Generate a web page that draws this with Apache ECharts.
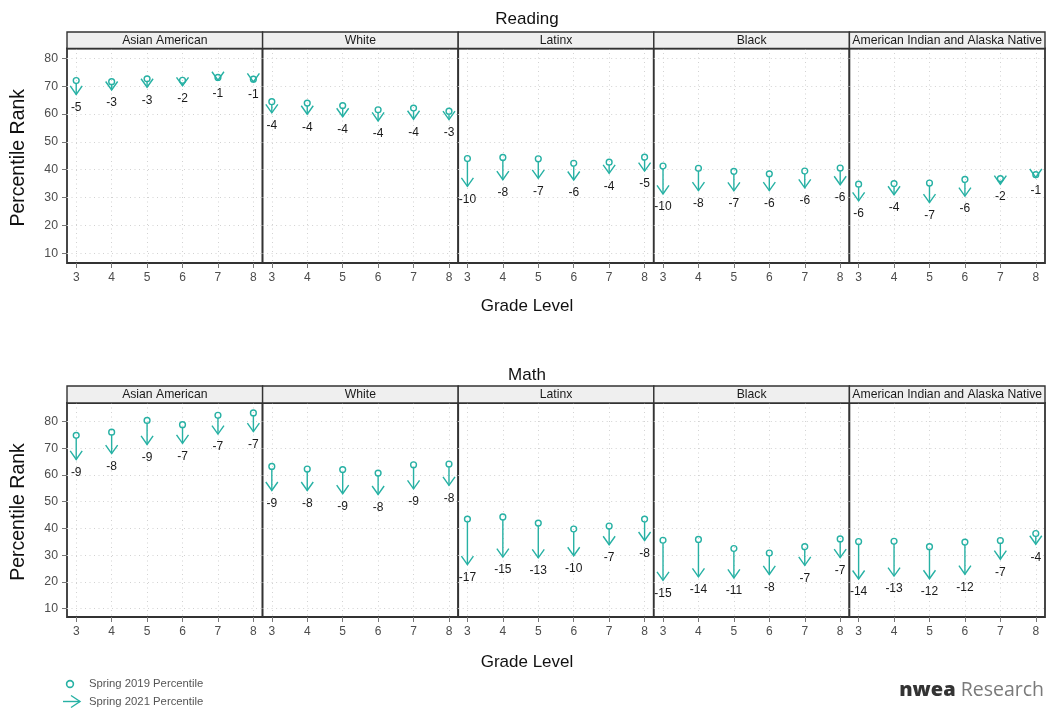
<!DOCTYPE html>
<html>
<head>
<meta charset="utf-8">
<script src="https://cdn.jsdelivr.net/npm/echarts@6/dist/echarts.min.js"></script>
<style>html,body{margin:0;padding:0;background:#fff}#c{width:1054px;height:713px}</style>
</head>
<body>
<div id="c"></div>
<script>
// ---------- data ----------
const groups = ['Asian American', 'White', 'Latinx', 'Black', 'American Indian and Alaska Native'];
const grades = [3, 4, 5, 6, 7, 8];
const yTicks = [10, 20, 30, 40, 50, 60, 70, 80];

const reading2019 = [
  [72.0, 71.6, 72.6, 72.1, 73.1, 72.5],
  [64.4, 63.9, 63.0, 61.5, 62.1, 61.0],
  [44.0, 44.4, 43.9, 42.3, 42.7, 44.5],
  [41.3, 40.5, 39.4, 38.5, 39.5, 40.6],
  [34.8, 35.0, 35.2, 36.5, 36.8, 38.2]
];
const reading2021 = [
  [67.0, 68.6, 69.6, 70.1, 72.1, 71.5],
  [60.4, 59.9, 59.0, 57.5, 58.1, 58.0],
  [34.0, 36.4, 36.9, 36.3, 38.7, 39.5],
  [31.3, 32.5, 32.4, 32.5, 33.5, 34.6],
  [28.8, 31.0, 28.2, 30.5, 34.8, 37.2]
];
const readingChange = [
  [-5, -3, -3, -2, -1, -1],
  [-4, -4, -4, -4, -4, -3],
  [-10, -8, -7, -6, -4, -5],
  [-10, -8, -7, -6, -6, -6],
  [-6, -4, -7, -6, -2, -1]
];

const math2019 = [
  [74.8, 76.0, 80.4, 78.8, 82.3, 83.2],
  [63.2, 62.2, 62.0, 60.7, 63.8, 64.1],
  [43.5, 44.3, 42.0, 39.8, 40.9, 43.5],
  [35.6, 35.9, 32.5, 30.8, 33.2, 36.1],
  [35.1, 35.2, 33.2, 34.9, 35.5, 38.1]
];
const math2021 = [
  [65.8, 68.0, 71.4, 71.8, 75.3, 76.2],
  [54.2, 54.2, 53.0, 52.7, 54.8, 56.1],
  [26.5, 29.3, 29.0, 29.8, 33.9, 35.5],
  [20.6, 21.9, 21.5, 22.8, 26.2, 29.1],
  [21.1, 22.2, 21.2, 22.9, 28.5, 34.1]
];
const mathChange = [
  [-9, -8, -9, -7, -7, -7],
  [-9, -8, -9, -8, -9, -8],
  [-17, -15, -13, -10, -7, -8],
  [-15, -14, -11, -8, -7, -7],
  [-14, -13, -12, -12, -7, -4]
];

// ---------- layout ----------
const TEAL = '#27b1a4';
const panelX0 = 67, panelW = 195.6;
const subjects = [
  { name: 'Reading', v19: reading2019, v21: reading2021, ch: readingChange,
    titleY: 6, stripTop: 32, plotTop: 48.5, plotH: 214.5, yMin: 6.5, yMax: 83.5, xTitleY: 293 },
  { name: 'Math', v19: math2019, v21: math2021, ch: mathChange,
    titleY: 362, stripTop: 386, plotTop: 403, plotH: 214, yMin: 6.9, yMax: 86.9, xTitleY: 649 }
];

const grid = [], xAxis = [], yAxis = [], series = [], graphic = [], title = [];
const fontFam = 'Liberation Sans, Arial, sans-serif';

subjects.forEach((s, si) => {
  title.push({ text: s.name, left: 'center', top: s.titleY,
    textStyle: { fontSize: 17, fontWeight: 'normal', color: '#111', fontFamily: fontFam } });
  title.push({ text: 'Grade Level', left: 'center', top: s.xTitleY,
    textStyle: { fontSize: 17, fontWeight: 'normal', color: '#111', fontFamily: fontFam } });
  graphic.push({ type: 'text', x: 19, y: s.plotTop + s.plotH / 2 + 2, rotation: Math.PI / 2,
    style: { text: 'Percentile Rank', fontSize: 19.5, fill: '#111', fontFamily: fontFam,
      align: 'center', verticalAlign: 'middle' } });

  groups.forEach((g, gi) => {
    const idx = grid.length;
    const left = panelX0 + gi * panelW;
    grid.push({ left: left, top: s.plotTop, width: panelW, height: s.plotH,
      show: true, borderColor: '#333', borderWidth: 1.8, backgroundColor: '#fff' });
    xAxis.push({ gridIndex: idx, type: 'value', min: 2.74, max: 8.26, splitNumber: 6,
      axisLine: { show: false },
      axisTick: { show: true, length: 5, customValues: grades, lineStyle: { color: '#777' } },
      axisLabel: { customValues: grades, fontSize: 12, color: '#4d4d4d', margin: 9, fontFamily: fontFam,
        formatter: v => Number.isInteger(v) ? String(v) : '' },
      splitLine: { show: true, lineStyle: { color: '#d2d2d2', type: [1, 3.5], width: 1 } } });
    yAxis.push({ gridIndex: idx, type: 'value', min: s.yMin, max: s.yMax, splitNumber: 8,
      axisLine: { show: false },
      axisTick: { show: gi === 0, length: 5, customValues: yTicks, lineStyle: { color: '#777' } },
      axisLabel: { show: gi === 0, customValues: yTicks, fontSize: 12.3, color: '#4d4d4d', margin: 9, fontFamily: fontFam,
        formatter: v => (v % 10 === 0) ? String(v) : '' },
      splitLine: { show: true, lineStyle: { color: '#d2d2d2', type: [1, 3.5], width: 1 } } });

    const data = grades.map((gr, k) => [gr, s.v19[gi][k], s.v21[gi][k], s.ch[gi][k]]);
    series.push({
      type: 'custom', xAxisIndex: idx, yAxisIndex: idx, data: data, z: 5,
      encode: { x: 0, y: [1, 2] },
      renderItem: (params, api) => {
        const x = api.value(0), a = api.value(1), b = api.value(2), lab = api.value(3);
        const p1 = api.coord([x, a]), p2 = api.coord([x, b]);
        const r = 2.9;
        const startY = Math.min(p1[1] + r, p2[1]);
        return { type: 'group', children: [
          { type: 'circle', shape: { cx: p1[0], cy: p1[1], r: r },
            style: { fill: 'none', stroke: TEAL, lineWidth: 1.4 } },
          { type: 'line', shape: { x1: p2[0], y1: startY, x2: p2[0], y2: p2[1] },
            style: { stroke: TEAL, lineWidth: 1.4 } },
          { type: 'polyline', shape: { points: [[p2[0] - 6, p2[1] - 8.5], [p2[0], p2[1]], [p2[0] + 6, p2[1] - 8.5]] },
            style: { fill: 'none', stroke: TEAL, lineWidth: 1.4 } },
          { type: 'text', x: p2[0], y: p2[1] + 13,
            style: { text: String(lab), fontSize: 12, fill: '#1a1a1a', align: 'center', verticalAlign: 'middle', fontFamily: fontFam } }
        ] };
      }
    });

    // strip header
    graphic.push({ type: 'rect', shape: { x: left, y: s.stripTop, width: panelW, height: s.plotTop - s.stripTop },
      style: { fill: '#efefef', stroke: '#333', lineWidth: 1.4 }, z: 10 });
    graphic.push({ type: 'text', x: left + panelW / 2, y: s.stripTop + (s.plotTop - s.stripTop) / 2 + 0.5,
      style: { text: g, fontSize: 12.2, fill: '#1a1a1a', align: 'center', verticalAlign: 'middle', fontFamily: fontFam }, z: 11 });
  });
});

// legend
graphic.push({ type: 'circle', shape: { cx: 70, cy: 684, r: 3.4 }, style: { fill: 'none', stroke: TEAL, lineWidth: 1.6 } });
graphic.push({ type: 'line', shape: { x1: 63, y1: 701.5, x2: 80, y2: 701.5 }, style: { stroke: TEAL, lineWidth: 1.4 } });
graphic.push({ type: 'polyline', shape: { points: [[71, 695.5], [80, 701.5], [71, 707.5]] }, style: { fill: 'none', stroke: TEAL, lineWidth: 1.4 } });
graphic.push({ type: 'text', x: 89, y: 684, style: { text: 'Spring 2019 Percentile', fontSize: 11.3, fill: '#555', verticalAlign: 'middle', fontFamily: fontFam } });
graphic.push({ type: 'text', x: 89, y: 701.5, style: { text: 'Spring 2021 Percentile', fontSize: 11.3, fill: '#555', verticalAlign: 'middle', fontFamily: fontFam } });

// logo
graphic.push({ type: 'text', x: 1044, y: 690, style: {
  text: '{a|nwea}{b| Research}', align: 'right', verticalAlign: 'middle',
  rich: { a: { fontSize: 20, fontWeight: 800, fill: '#333', fontFamily: 'Open Sans, sans-serif' },
          b: { fontSize: 19.5, fill: '#7a7a7a', fontFamily: 'Open Sans, sans-serif' } } } });

const chart = echarts.init(document.getElementById('c'), null, { renderer: 'canvas' });
chart.setOption({ animation: false, backgroundColor: '#fff', title, grid, xAxis, yAxis, series, graphic });
</script>
</body>
</html>
